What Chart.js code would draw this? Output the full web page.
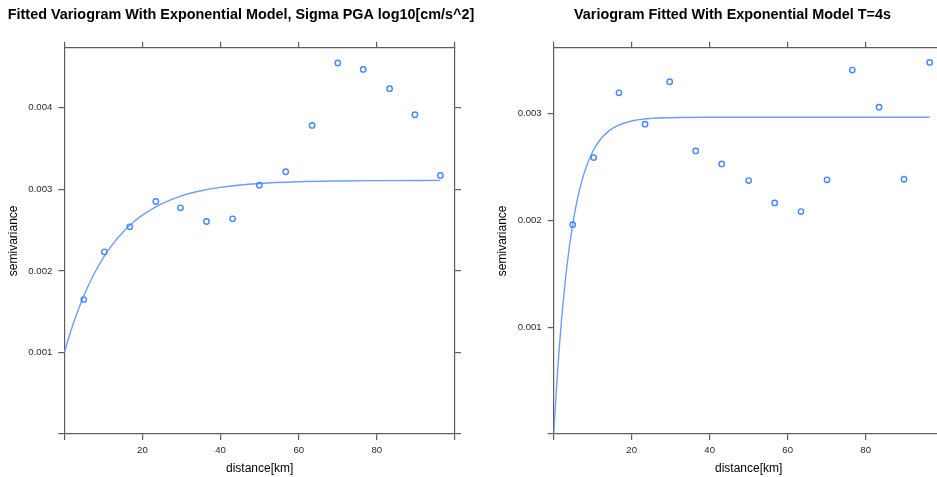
<!DOCTYPE html>
<html>
<head>
<meta charset="utf-8">
<script src="https://cdn.jsdelivr.net/npm/chart.js@4.4.1/dist/chart.umd.min.js"></script>
<style>
  html, body { margin: 0; padding: 0; background: #fff; overflow: hidden; }
  #wrap { position: relative; width: 937px; height: 477px; overflow: hidden; }
  canvas { position: absolute; top: 0; }
</style>
</head>
<body>
<div id="wrap">
  <canvas id="pga" width="476" height="477" style="left:0px"></canvas>
  <canvas id="t4" width="500" height="477" style="left:470px"></canvas>
</div>
<script>
// binned lag distances [km] and semivariances, PGA panel
const pgaDist  = [4.97, 10.26, 16.77, 23.43, 29.74, 36.40, 43.08, 49.92, 56.67, 63.43, 70.00, 76.50, 83.26, 89.74, 96.26];
const pgaGamma = [0.001648, 0.002233, 0.002540, 0.002850, 0.002773, 0.002605, 0.002638, 0.003051, 0.003215, 0.003783, 0.004548, 0.004470, 0.004233, 0.003914, 0.003170];
// fitted exponential curve
const pgaFitDist  = [0, 2.5, 5, 7.5, 10, 12.5, 15, 17.5, 20, 25, 30, 35, 40, 50, 60, 70, 80, 96.26];
const pgaFitGamma = [0.001000, 0.001383, 0.001696, 0.001952, 0.002162, 0.002334, 0.002474, 0.002590, 0.002684, 0.002824, 0.002919, 0.002982, 0.003024, 0.003071, 0.003093, 0.003102, 0.003106, 0.003109];

// T=4s panel
const t4Dist  = [4.87, 10.26, 16.74, 23.41, 29.74, 36.41, 43.08, 50.00, 56.67, 63.41, 70.08, 76.56, 83.41, 89.82, 96.41];
const t4Gamma = [0.001959, 0.002587, 0.003193, 0.002899, 0.003296, 0.002649, 0.002527, 0.002371, 0.002162, 0.002081, 0.002378, 0.003405, 0.003058, 0.002384, 0.003477];
const t4FitDist  = [0, 1, 2, 3, 4, 5, 6, 7, 8, 10, 12, 14, 16, 20, 25, 30, 40, 96.41];
const t4FitGamma = [0, 0.000591, 0.001063, 0.001442, 0.001745, 0.001988, 0.002183, 0.002338, 0.002463, 0.002643, 0.002758, 0.002832, 0.002879, 0.002929, 0.002953, 0.002960, 0.002964, 0.002964];

// axes
const xTicks = [0, 20, 40, 60, 80, 100];
const xTickLabels = ['', '20', '40', '60', '80', ''];
const pgaYTicks = [0, 0.001, 0.002, 0.003, 0.004];
const pgaYTickLabels = ['', '0.001', '0.002', '0.003', '0.004'];
const t4YTicks = [0, 0.001, 0.002, 0.003];
const t4YTickLabels = ['', '0.001', '0.002', '0.003'];

Chart.defaults.font.family = "'Liberation Sans', Arial, Helvetica, sans-serif";
Chart.defaults.color = '#333';

const AXIS_COL = '#5e5e5e';
const POINT_COL = '#4487ff';
const LINE_COL = '#6c9dff';

function toPoints(xs, ys) {
  return xs.map((x, i) => ({ x: x, y: ys[i] }));
}

function axis(pos, ticks, labels, size, extra) {
  const horiz = pos === 'top' || pos === 'bottom';
  const s = {
    type: 'linear',
    position: pos,
    min: extra.min,
    max: extra.max,
    grid: { drawOnChartArea: false, drawTicks: true, tickLength: 6, color: AXIS_COL, lineWidth: 1.2 },
    border: { display: true, color: AXIS_COL, width: 1.2 },
    ticks: {
      font: { size: 9.6 },
      color: '#2a2a2a',
      padding: horiz ? 4.3 : 6,
      maxRotation: 0,
      autoSkip: false,
      callback: (v, i) => labels ? labels[i] : ''
    },
    afterBuildTicks: sc => { sc.ticks = ticks.map(v => ({ value: v })); },
    afterFit: sc => { if (horiz) sc.height = size; else sc.width = size; }
  };
  if (extra.title) {
    s.title = { display: true, text: extra.title, font: { size: 12 }, color: '#000',
                padding: horiz ? { top: 0, bottom: 1.5 } : { top: 0, bottom: 0 } };
  }
  return s;
}

function makePanel(id, p) {
  new Chart(document.getElementById(id), {
    type: 'scatter',
    data: {
      datasets: [
        {
          data: toPoints(p.dist, p.gamma),
          pointStyle: 'circle',
          pointRadius: 2.7,
          pointBorderWidth: 1.4,
          pointBorderColor: POINT_COL,
          pointBackgroundColor: 'rgba(0,0,0,0)',
          showLine: false
        },
        {
          data: toPoints(p.fitDist, p.fitGamma),
          showLine: true,
          pointRadius: 0,
          borderColor: LINE_COL,
          borderWidth: 1.4,
          cubicInterpolationMode: 'monotone',
          fill: false
        }
      ]
    },
    options: {
      responsive: false,
      animation: false,
      devicePixelRatio: 1,
      layout: { padding: { left: p.padL, right: p.padR, top: 0, bottom: 0 } },
      plugins: {
        legend: { display: false },
        tooltip: { enabled: false },
        title: {
          display: true,
          text: p.title,
          color: '#000',
          font: { size: 14.4, weight: 'bold' },
          padding: { top: 6.7, bottom: 0 }
        }
      },
      scales: {
        x:  axis('bottom', xTicks, xTickLabels, 43, { min: 0, max: 100, title: 'distance[km]' }),
        x2: axis('top', xTicks, null, 23.7, { min: 0, max: 100 }),
        y:  axis('left', p.yTicks, p.yLabels, p.yWidth, { min: 0, max: p.yMax, title: 'semivariance' }),
        y2: axis('right', p.yTicks, null, p.y2Width, { min: 0, max: p.yMax })
      }
    }
  });
}

makePanel('pga', {
  title: 'Fitted Variogram With Exponential Model, Sigma PGA log10[cm/s^2]',
  dist: pgaDist, gamma: pgaGamma, fitDist: pgaFitDist, fitGamma: pgaFitGamma,
  yTicks: pgaYTicks, yLabels: pgaYTickLabels, yMax: 0.004736,
  padL: 6.9, padR: 0.9, yWidth: 57.4, y2Width: 20.1
});

makePanel('t4', {
  title: 'Variogram Fitted With Exponential Model T=4s',
  dist: t4Dist, gamma: t4Gamma, fitDist: t4FitDist, fitGamma: t4FitGamma,
  yTicks: t4YTicks, yLabels: t4YTickLabels, yMax: 0.003615,
  padL: 25.3, padR: 0.3, yWidth: 58.4, y2Width: 26
});
</script>
</body>
</html>
